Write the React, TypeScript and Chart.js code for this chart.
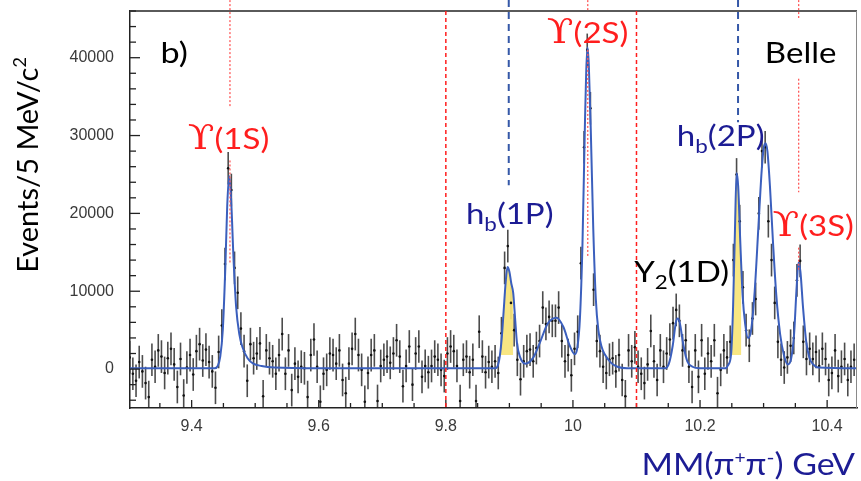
import { useEffect, useRef } from 'react';
import { Chart, registerables } from 'chart.js';

Chart.register(...registerables);

// Histogram: 5 MeV bins starting at 9.30 GeV
const BIN_START = 9.3;
const BIN_WIDTH = 0.005;
const EVENTS = [
  1500, -600, -1500, 900, -300, -1800, -3600, 1200, 300, 2400,
  1600, -500, 1400, 2600, 600, -2300, 1300, -3400, 200, 1800,
  -700, 2300, 3200, 1100, 2500, 900, -300, -2400, 2200, 5600,
  13500, 25800, 23000, 13000, 9800, 5200, 2300, -1500, 3200, 1400,
  2000, 3300, -3500, 2400, 1400, 1000, -600, 1800, 4500, -600,
  2400, -2700, 700, -1000, 300, 100, -3600, 1800, 3800, 300,
  -4200, -600, -100, 2000, 1800, 700, 2400, -1400, -3100, 700,
  2600, 4500, 1800, -100, -4200, -500, 1800, 2400, -4100, 400,
  1200, 1600, 800, 2000, 3700, 1600, -2200, 400, 2900, -2000,
  2000, 2900, -1000, 400, -400, 400, 1600, 1200, -100, -900,
  2000, 2900, 2300, 400, -4100, 1200, 1600, -400, 1200, -4100,
  4800, 1600, -400, 900, 300, 1000, -500, 4600, 13000, 15800,
  8500, 5000, 1200, -1300, 1000, 2300, 2500, 1000, 2700, 3600,
  7900, 5800, 6700, 6200, 6200, 7900, 3600, 1000, 1800, -800,
  2600, 4800, 13600, 28500, 41000, 33500, 10200, 3600, 2300, 300,
  -500, 1200, 1400, -300, 1800, -1400, -3500, 2400, 1000, 2800,
  300, -600, -1800, 600, 4900, 1000, -1400, 2400, 300, 2000,
  3800, 5900, 7600, 6200, 2400, 3700, 300, -2300, 2400, -1000,
  3700, -600, 2000, 1000, 3700, -3100, -100, 2400, 1500, 3500,
  14000, 25000, 19000, 10500, 5000, 3000, 6500, 9000, 20000, 28000,
  28500, 19000, 14000, 8500, 3500, 1200, 200, 1500, 3000, 4000,
  11400, 13900, 3500, 1300, 2600, 1300, 2200, 400, 2600, 1300,
  -1400, -500, 2400, -900, 300, 1300, -1400, 300, 1200, -300,
];
const EVENT_ERR = 2100;

// Fit curve sampled along the mass axis
const FIT_MASS = [
  9.3, 9.436, 9.441, 9.445, 9.449, 9.453, 9.456, 9.459, 9.462, 9.466,
  9.47, 9.475, 9.48, 9.488, 9.497, 9.51, 9.53, 9.6, 9.878, 9.882,
  9.885, 9.888, 9.891, 9.894, 9.897, 9.9, 9.903, 9.906, 9.909, 9.912,
  9.917, 9.925, 9.937, 9.948, 9.96, 9.974, 9.985, 9.995, 10.003, 10.007,
  10.011, 10.015, 10.019, 10.021, 10.023, 10.025, 10.028, 10.032, 10.036, 10.04,
  10.045, 10.05, 10.06, 10.07, 10.085, 10.145, 10.151, 10.157, 10.162, 10.165,
  10.168, 10.174, 10.18, 10.188, 10.2, 10.24, 10.244, 10.249, 10.252, 10.255,
  10.2575, 10.26, 10.2635, 10.267, 10.271, 10.2755, 10.28, 10.286, 10.292, 10.297,
  10.3, 10.303, 10.306, 10.31, 10.315, 10.32, 10.326, 10.332, 10.338, 10.343,
  10.348, 10.352, 10.355, 10.358, 10.362, 10.367, 10.372, 10.378, 10.386, 10.45,
];
const FIT_EVENTS = [
  100, 100, 400, 1600, 5000, 13000, 21000, 24800, 22000, 14000,
  8000, 4500, 2800, 1400, 700, 400, 200, 100, 100, 500,
  1700, 4000, 7500, 11000, 13100, 12500, 11000, 9800, 6500, 3300,
  1500, 700, 1400, 3400, 5800, 6600, 5400, 3000, 1900, 2800,
  6500, 16000, 32000, 38500, 41300, 39000, 31000, 18000, 9000, 5000,
  2900, 1900, 800, 300, 100, 100, 700, 3000, 6000, 6500,
  6000, 3000, 1000, 300, 100, 100, 500, 2000, 8000, 18000,
  25200, 23500, 16000, 9500, 5800, 4000, 4800, 10000, 18500, 25500,
  28300, 29000, 28000, 23500, 16000, 9500, 4500, 1800, 600, 1200,
  4500, 10500, 13700, 12500, 8000, 3600, 1500, 600, 200, 100,
];

// Shaded h_b signal regions
const BAND_FLOOR = 1800;
const HB1P_BAND_MASS = [9.8855, 9.888, 9.891, 9.894, 9.897, 9.9, 9.903, 9.906];
const HB1P_BAND_EVENTS = [2000, 4000, 7500, 11000, 13100, 12500, 11000, 9800];
const HB2P_BAND_MASS = [10.249, 10.252, 10.255, 10.2575, 10.26, 10.2635, 10.265];
const HB2P_BAND_EVENTS = [2000, 8000, 18000, 25200, 23500, 16000, 13000];

const X_TICKS = [9.4, 9.6, 9.8, 10, 10.2, 10.4];
const Y_TICKS = [0, 10000, 20000, 30000, 40000];
const X_MINOR_STEP = 0.05;
const Y_MINOR_STEP = 2000;
const X_MIN = 9.303;
const X_MAX = 10.447;
const Y_MIN = -5000;
const Y_MAX = 46000;

const RED = '#ff1e1e';
const RED_DOT = '#ff5a5a';
const NAVY = '#1c1c94';
const FIT_BLUE = '#3b5fbd';
const MARK_BLUE = '#3558a8';
const SANS = 'Lato, "Open Sans", sans-serif';
const SERIF = '"DejaVu Serif", serif';
const TICK_FONT = '"Liberation Sans", Arial, sans-serif';
const LABEL_STRETCH = 1.18;
const TITLE_STRETCH = 1.13;

type Span = [number, number];
type Marker = { mass: number; color: string; dash: number[]; width: number; spans: Span[] };

const MARKERS: Marker[] = [
  { mass: 9.4603, color: RED_DOT, dash: [2, 2], width: 1.3, spans: [[47400, 33700], [26800, 13500]] },
  { mass: 9.8, color: RED, dash: [4, 3], width: 1.5, spans: [[Y_MAX, Y_MIN]] },
  { mass: 9.899, color: MARK_BLUE, dash: [7, 5], width: 2, spans: [[47400, 23600]] },
  { mass: 10.0233, color: RED_DOT, dash: [2, 2], width: 1.3, spans: [[47400, Y_MAX], [41000, 14400]] },
  { mass: 10.1, color: RED, dash: [4, 3], width: 1.5, spans: [[Y_MAX, Y_MIN]] },
  { mass: 10.2598, color: MARK_BLUE, dash: [7, 5], width: 2, spans: [[47400, 31700]] },
  { mass: 10.3552, color: RED_DOT, dash: [2, 2], width: 1.3, spans: [[47400, 45100], [37300, 22700], [15600, 12700]] },
];

type Part = { t: string; size: number; family?: string; dy?: number };
type Annotation = { mass: number; events: number; align: 'left' | 'center'; color: string; parts: Part[] };

const ANNOTATIONS: Annotation[] = [
  { mass: 9.351, events: 39360, align: 'left', color: '#000', parts: [{ t: 'b)', size: 29 }] },
  { mass: 10.302, events: 39360, align: 'left', color: '#000', parts: [{ t: 'Belle', size: 28 }] },
  {
    mass: 9.458, events: 28330, align: 'center', color: RED,
    parts: [{ t: 'ϒ', size: 33, family: SERIF }, { t: '(1S)', size: 28 }],
  },
  {
    mass: 10.023, events: 41900, align: 'center', color: RED,
    parts: [{ t: 'ϒ', size: 33, family: SERIF }, { t: '(2S)', size: 28 }],
  },
  {
    mass: 10.378, events: 17050, align: 'center', color: RED,
    parts: [{ t: 'ϒ', size: 33, family: SERIF }, { t: '(3S)', size: 28 }],
  },
  {
    mass: 9.9005, events: 18700, align: 'center', color: NAVY,
    parts: [{ t: 'h', size: 28 }, { t: 'b', size: 19, dy: 7 }, { t: '(1P)', size: 28 }],
  },
  {
    mass: 10.2325, events: 28700, align: 'center', color: NAVY,
    parts: [{ t: 'h', size: 28 }, { t: 'b', size: 19, dy: 7 }, { t: '(2P)', size: 28 }],
  },
  {
    mass: 10.171, events: 11150, align: 'center', color: '#000',
    parts: [{ t: 'Y', size: 28 }, { t: '2', size: 19, dy: 7 }, { t: '(1D)', size: 28 }],
  },
];

const X_TITLE: Part[] = [
  { t: 'MM(π', size: 30 },
  { t: '+', size: 17, dy: -11 },
  { t: 'π', size: 30 },
  { t: '-', size: 19, dy: -11 },
  { t: ') GeV', size: 30 },
];
const Y_TITLE: Part[] = [
  { t: 'Events/5 MeV/c', size: 29 },
  { t: '2', size: 18, dy: -12 },
];

function drawParts(
  ctx: CanvasRenderingContext2D,
  parts: Part[],
  x: number,
  y: number,
  align: 'left' | 'center' | 'right',
  color: string,
  stretch = 1,
) {
  const widths = parts.map((p) => {
    ctx.font = `${p.size}px ${p.family ?? SANS}`;
    return ctx.measureText(p.t).width * stretch;
  });
  const total = widths.reduce((a, b) => a + b, 0);
  let cx = align === 'center' ? x - total / 2 : align === 'right' ? x - total : x;
  ctx.fillStyle = color;
  ctx.textAlign = 'left';
  ctx.textBaseline = 'alphabetic';
  parts.forEach((p, i) => {
    ctx.save();
    ctx.font = `${p.size}px ${p.family ?? SANS}`;
    ctx.translate(cx, y + (p.dy ?? 0));
    ctx.scale(stretch, 1);
    ctx.fillText(p.t, 0, 0);
    ctx.restore();
    cx += widths[i];
  });
}

const binMass = (i: number) => BIN_START + BIN_WIDTH * (i + 0.5);

const decorations = {
  id: 'decorations',
  beforeDatasetsDraw(chart: Chart) {
    const { ctx, chartArea } = chart;
    const xs = chart.scales.x;
    const ys = chart.scales.y;
    ctx.save();
    ctx.beginPath();
    ctx.rect(chartArea.left, chartArea.top, chartArea.right - chartArea.left, chartArea.bottom - chartArea.top);
    ctx.clip();
    // error bars
    ctx.strokeStyle = 'rgba(25,25,25,0.78)';
    ctx.lineWidth = 1.6;
    EVENTS.forEach((v, i) => {
      const px = xs.getPixelForValue(binMass(i));
      ctx.beginPath();
      ctx.moveTo(px, ys.getPixelForValue(v - EVENT_ERR));
      ctx.lineTo(px, ys.getPixelForValue(v + EVENT_ERR));
      ctx.stroke();
    });
    ctx.restore();
  },
  afterDatasetsDraw(chart: Chart) {
    const { ctx, chartArea } = chart;
    const xs = chart.scales.x;
    const ys = chart.scales.y;
    ctx.save();
    // frame: top and right edges
    ctx.strokeStyle = '#5a5a5a';
    ctx.lineWidth = 2;
    ctx.beginPath();
    ctx.moveTo(chartArea.left, chartArea.top);
    ctx.lineTo(chartArea.right, chartArea.top);
    ctx.stroke();
    ctx.strokeStyle = '#8a8a8a';
    ctx.lineWidth = 1;
    ctx.beginPath();
    ctx.moveTo(chartArea.right - 0.5, chartArea.top);
    ctx.lineTo(chartArea.right - 0.5, chartArea.bottom);
    ctx.stroke();

    // inward tick marks
    ctx.strokeStyle = '#222';
    ctx.lineWidth = 1.3;
    const yMajor = new Set(Y_TICKS.map((v) => Math.round(v)));
    for (let v = Math.ceil(Y_MIN / Y_MINOR_STEP) * Y_MINOR_STEP; v <= Y_MAX; v += Y_MINOR_STEP) {
      const py = ys.getPixelForValue(v);
      const len = yMajor.has(Math.round(v)) ? 10 : 6;
      ctx.beginPath();
      ctx.moveTo(chartArea.left, py);
      ctx.lineTo(chartArea.left + len, py);
      ctx.stroke();
    }
    const xMajor = new Set(X_TICKS.map((v) => Math.round(v * 100)));
    for (let k = Math.ceil(X_MIN / X_MINOR_STEP); k * X_MINOR_STEP <= X_MAX + 1e-9; k++) {
      const v = k * X_MINOR_STEP;
      const px = xs.getPixelForValue(v);
      const len = xMajor.has(Math.round(v * 100)) ? 8 : 5;
      ctx.beginPath();
      ctx.moveTo(px, chartArea.bottom);
      ctx.lineTo(px, chartArea.bottom - len);
      ctx.stroke();
    }

    // resonance markers
    MARKERS.forEach((m) => {
      const px = xs.getPixelForValue(m.mass);
      ctx.strokeStyle = m.color;
      ctx.lineWidth = m.width;
      ctx.setLineDash(m.dash);
      m.spans.forEach(([a, b]) => {
        ctx.beginPath();
        ctx.moveTo(px, Math.max(0, ys.getPixelForValue(a)));
        ctx.lineTo(px, ys.getPixelForValue(b));
        ctx.stroke();
      });
    });
    ctx.setLineDash([]);

    // annotations
    ANNOTATIONS.forEach((a) => {
      drawParts(ctx, a.parts, xs.getPixelForValue(a.mass), ys.getPixelForValue(a.events), a.align, a.color, LABEL_STRETCH);
    });

    // axis titles
    drawParts(ctx, X_TITLE, chartArea.right - 2, chart.height - 6, 'right', NAVY, TITLE_STRETCH);
    ctx.save();
    ctx.translate(38, 165);
    ctx.rotate(-Math.PI / 2);
    drawParts(ctx, Y_TITLE, 0, 0, 'center', '#000');
    ctx.restore();

    ctx.restore();
  },
};

const noScalePadding = (s: any) => {
  s.paddingTop = 0;
  s.paddingBottom = 0;
  s.paddingLeft = 0;
  s.paddingRight = 0;
};

export default function App() {
  const canvasRef = useRef<HTMLCanvasElement | null>(null);

  useEffect(() => {
    const canvas = canvasRef.current;
    if (!canvas) return;
    const chart = new Chart(canvas, {
      type: 'scatter',
      data: {
        datasets: [
          {
            type: 'line',
            label: 'h_b(1P) signal',
            data: HB1P_BAND_MASS.map((m, i) => ({ x: m, y: HB1P_BAND_EVENTS[i] })),
            borderWidth: 0,
            pointRadius: 0,
            backgroundColor: 'rgba(247,228,120,0.92)',
            fill: { value: BAND_FLOOR },
            tension: 0.3,
            order: 3,
          },
          {
            type: 'line',
            label: 'h_b(2P) signal',
            data: HB2P_BAND_MASS.map((m, i) => ({ x: m, y: HB2P_BAND_EVENTS[i] })),
            borderWidth: 0,
            pointRadius: 0,
            backgroundColor: 'rgba(247,228,120,0.92)',
            fill: { value: BAND_FLOOR },
            tension: 0.3,
            order: 3,
          },
          {
            label: 'Data',
            data: EVENTS.map((v, i) => ({ x: binMass(i), y: v })),
            pointRadius: 1.3,
            pointBackgroundColor: '#111',
            pointBorderWidth: 0,
            showLine: false,
            order: 2,
          },
          {
            type: 'line',
            label: 'Fit',
            data: FIT_MASS.map((m, i) => ({ x: m, y: FIT_EVENTS[i] })),
            borderColor: FIT_BLUE,
            borderWidth: 2,
            pointRadius: 0,
            fill: false,
            cubicInterpolationMode: 'monotone',
            tension: 0.4,
            order: 1,
          },
        ],
      },
      options: {
        responsive: false,
        animation: false,
        layout: { padding: { top: 11, right: 1, left: 0, bottom: 0 } },
        plugins: { legend: { display: false }, tooltip: { enabled: false } },
        scales: {
          x: {
            type: 'linear',
            min: X_MIN,
            max: X_MAX,
            grid: { display: false },
            border: { display: true, color: '#222', width: 1.5 },
            ticks: {
              autoSkip: false,
              maxRotation: 0,
              padding: 1,
              color: '#3a3a3a',
              font: { family: TICK_FONT, size: 16 },
              callback: (v: number | string) => String(v),
            },
            afterBuildTicks: (s: any) => {
              s.ticks = X_TICKS.map((v) => ({ value: v }));
            },
            afterFit: (s: any) => {
              s.height = 73;
              noScalePadding(s);
            },
          },
          y: {
            type: 'linear',
            min: Y_MIN,
            max: Y_MAX,
            grid: { display: false },
            border: { display: true, color: '#222', width: 1.5 },
            ticks: {
              autoSkip: false,
              padding: 8,
              color: '#3a3a3a',
              font: { family: TICK_FONT, size: 16 },
              callback: (v: number | string) => String(v),
            },
            afterBuildTicks: (s: any) => {
              s.ticks = Y_TICKS.map((v) => ({ value: v }));
            },
            afterFit: (s: any) => {
              s.width = 130;
              noScalePadding(s);
            },
          },
        },
      },
      plugins: [decorations],
    });
    return () => chart.destroy();
  }, []);

  return (
    <div style={{ position: 'fixed', left: 0, top: 0, width: 861, height: 481, background: '#fff' }}>
      <canvas ref={canvasRef} width={861} height={481} style={{ display: 'block' }} />
    </div>
  );
}
